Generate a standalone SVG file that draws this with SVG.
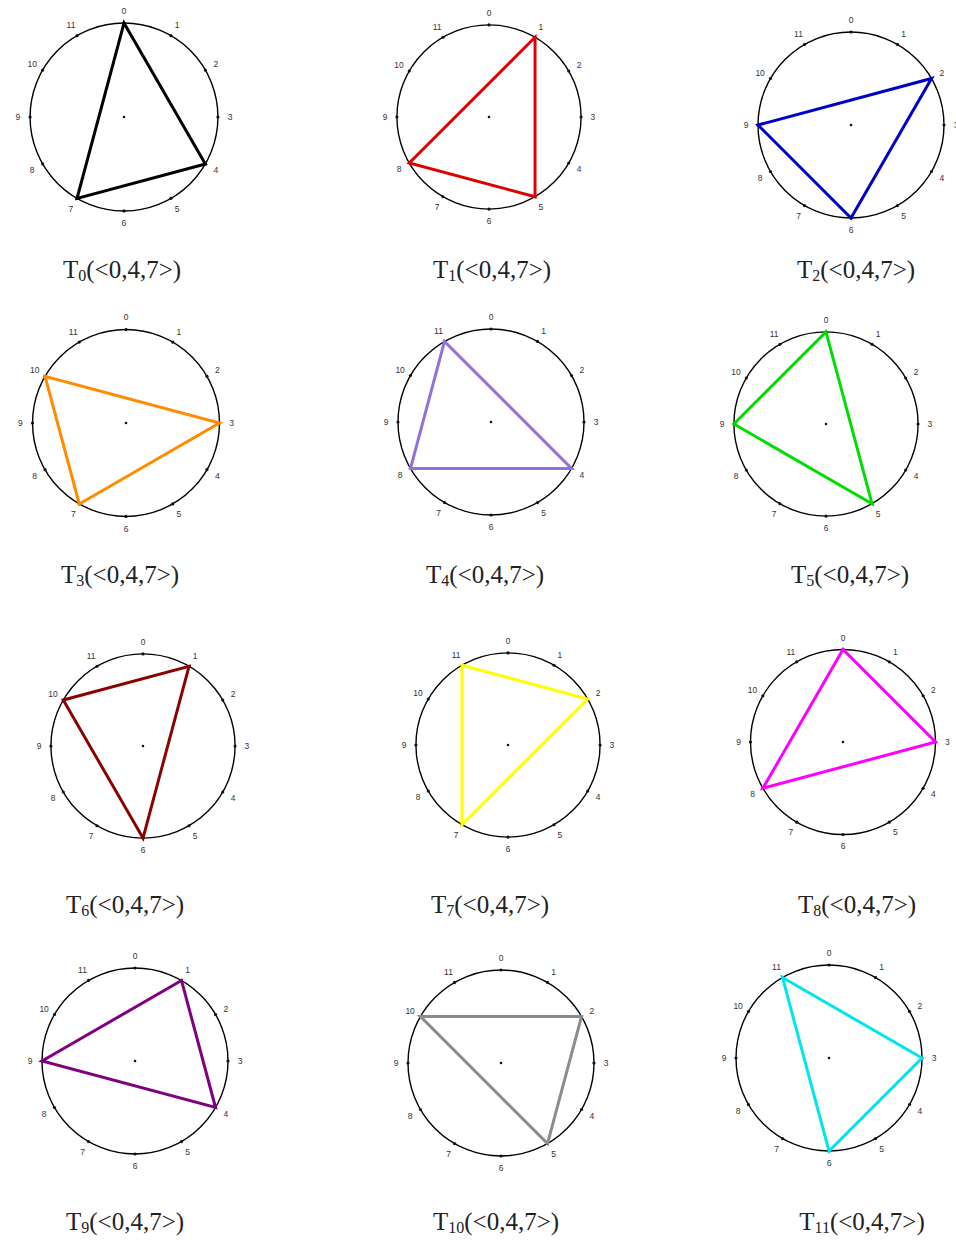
<svg xmlns="http://www.w3.org/2000/svg" xmlns:xlink="http://www.w3.org/1999/xlink" width="956" height="1240" viewBox="0 0 956 1240">
<style>
.ring{fill:none;stroke:#000;stroke-width:1.4}
.tick{fill:#111}
.num{font-family:"Liberation Sans",Arial,sans-serif;font-size:8.5px;fill:#333;text-anchor:middle;dominant-baseline:central}
.tri{fill:none;stroke-width:3;stroke-linejoin:miter}
.lab{font-family:"Liberation Serif","Times New Roman",serif;font-size:25px;fill:#222;text-anchor:middle}
.sub{font-size:16px}
</style>
<defs>
<g id="dial">
<circle class="ring" cx="0" cy="0" r="93"/>
<circle class="tick" cx="0" cy="0" r="1.3"/>
<g class="tick">
<circle cx="0" cy="-93" r="1.6"/><circle cx="46.5" cy="-80.54" r="1.6"/><circle cx="80.54" cy="-46.5" r="1.6"/>
<circle cx="93" cy="0" r="1.6"/><circle cx="80.54" cy="46.5" r="1.6"/><circle cx="46.5" cy="80.54" r="1.6"/>
<circle cx="0" cy="93" r="1.6"/><circle cx="-46.5" cy="80.54" r="1.6"/><circle cx="-80.54" cy="46.5" r="1.6"/>
<circle cx="-93" cy="0" r="1.6"/><circle cx="-80.54" cy="-46.5" r="1.6"/><circle cx="-46.5" cy="-80.54" r="1.6"/>
</g>
<text class="num" x="0" y="-105">0</text>
<text class="num" x="52.5" y="-90.9">1</text>
<text class="num" x="90.9" y="-52.5">2</text>
<text class="num" x="105" y="0">3</text>
<text class="num" x="90.9" y="52.5">4</text>
<text class="num" x="52.5" y="90.9">5</text>
<text class="num" x="0" y="105">6</text>
<text class="num" x="-52.5" y="90.9">7</text>
<text class="num" x="-90.9" y="52.5">8</text>
<text class="num" x="-105" y="0">9</text>
<text class="num" x="-90.9" y="-52.5">10</text>
<text class="num" x="-52.5" y="-90.9">11</text>
</g>
</defs>
<rect width="956" height="1240" fill="#fff"/>

<g id="T0">
<g transform="translate(124,117) scale(1.01)"><use xlink:href="#dial"/><polygon class="tri" stroke="#000" stroke-width="4" points="0,-93 80.54,46.5 -46.5,80.54"/></g>
<text class="lab" x="122" y="278">T<tspan class="sub" dy="3">0</tspan><tspan dy="-3">(&lt;0,4,7&gt;)</tspan></text>
</g>
<g id="T1">
<g transform="translate(489,117) scale(0.99)"><use xlink:href="#dial"/><polygon class="tri" stroke="#e00000" points="46.5,-80.54 46.5,80.54 -80.54,46.5"/></g>
<text class="lab" x="492" y="278">T<tspan class="sub" dy="3">1</tspan><tspan dy="-3">(&lt;0,4,7&gt;)</tspan></text>
</g>
<g id="T2">
<g transform="translate(851,125) scale(1)"><use xlink:href="#dial"/><polygon class="tri" stroke="#0000c8" points="80.54,-46.5 0,93 -93,0"/></g>
<text class="lab" x="856" y="278">T<tspan class="sub" dy="3">2</tspan><tspan dy="-3">(&lt;0,4,7&gt;)</tspan></text>
</g>
<g id="T3">
<g transform="translate(126,423) scale(1.005)"><use xlink:href="#dial"/><polygon class="tri" stroke="#ff8c00" points="93,0 -46.5,80.54 -80.54,-46.5"/></g>
<text class="lab" x="120" y="583">T<tspan class="sub" dy="3">3</tspan><tspan dy="-3">(&lt;0,4,7&gt;)</tspan></text>
</g>
<g id="T4">
<g transform="translate(491,422) scale(1)"><use xlink:href="#dial"/><polygon class="tri" stroke="#9370db" points="80.54,46.5 -80.54,46.5 -46.5,-80.54"/></g>
<text class="lab" x="485" y="583">T<tspan class="sub" dy="3">4</tspan><tspan dy="-3">(&lt;0,4,7&gt;)</tspan></text>
</g>
<g id="T5">
<g transform="translate(826,424) scale(0.99)"><use xlink:href="#dial"/><polygon class="tri" stroke="#00dd00" points="46.5,80.54 -93,0 0,-93"/></g>
<text class="lab" x="850" y="583">T<tspan class="sub" dy="3">5</tspan><tspan dy="-3">(&lt;0,4,7&gt;)</tspan></text>
</g>
<g id="T6">
<g transform="translate(143,746) scale(0.99)"><use xlink:href="#dial"/><polygon class="tri" stroke="#8b0000" points="0,93 -80.54,-46.5 46.5,-80.54"/></g>
<text class="lab" x="125" y="913">T<tspan class="sub" dy="3">6</tspan><tspan dy="-3">(&lt;0,4,7&gt;)</tspan></text>
</g>
<g id="T7">
<g transform="translate(508,745) scale(0.99)"><use xlink:href="#dial"/><polygon class="tri" stroke="#ffff00" points="-46.5,80.54 -46.5,-80.54 80.54,-46.5"/></g>
<text class="lab" x="490" y="913">T<tspan class="sub" dy="3">7</tspan><tspan dy="-3">(&lt;0,4,7&gt;)</tspan></text>
</g>
<g id="T8">
<g transform="translate(843,742) scale(0.995)"><use xlink:href="#dial"/><polygon class="tri" stroke="#ff00ff" points="-80.54,46.5 0,-93 93,0"/></g>
<text class="lab" x="857" y="913">T<tspan class="sub" dy="3">8</tspan><tspan dy="-3">(&lt;0,4,7&gt;)</tspan></text>
</g>
<g id="T9">
<g transform="translate(135,1061) scale(1)"><use xlink:href="#dial"/><polygon class="tri" stroke="#800080" points="-93,0 46.5,-80.54 80.54,46.5"/></g>
<text class="lab" x="125" y="1230">T<tspan class="sub" dy="3">9</tspan><tspan dy="-3">(&lt;0,4,7&gt;)</tspan></text>
</g>
<g id="T10">
<g transform="translate(501,1063) scale(1)"><use xlink:href="#dial"/><polygon class="tri" stroke="#8c8c8c" points="-80.54,-46.5 80.54,-46.5 46.5,80.54"/></g>
<text class="lab" x="496" y="1230">T<tspan class="sub" dy="3">10</tspan><tspan dy="-3">(&lt;0,4,7&gt;)</tspan></text>
</g>
<g id="T11">
<g transform="translate(829,1058) scale(1)"><use xlink:href="#dial"/><polygon class="tri" stroke="#00e5ee" points="-46.5,-80.54 93,0 0,93"/></g>
<text class="lab" x="862" y="1230">T<tspan class="sub" dy="3">11</tspan><tspan dy="-3">(&lt;0,4,7&gt;)</tspan></text>
</g>
<g id="connectors"/>
</svg>
